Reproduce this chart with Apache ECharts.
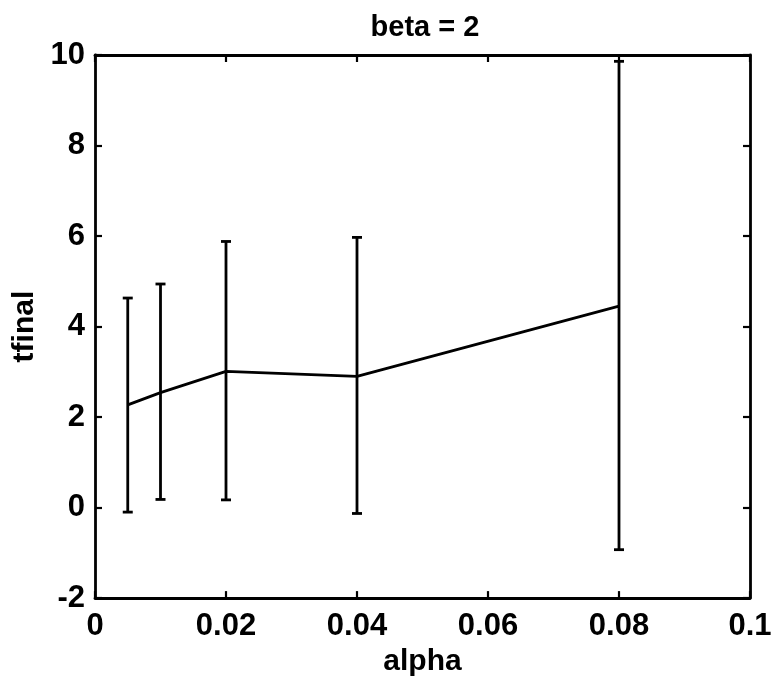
<!DOCTYPE html>
<html>
<head>
<meta charset="utf-8">
<script src="https://cdn.jsdelivr.net/npm/echarts@6/dist/echarts.min.js"></script>
<style>
html,body{margin:0;padding:0;background:#fff;}
#chart{width:778px;height:682px;}
</style>
</head>
<body>
<div id="chart"></div>
<script>
const alpha = [0.005, 0.01, 0.02, 0.04, 0.08];
const meanT = [2.27, 2.54, 3.01, 2.90, 4.45];
const lowT  = [-0.10, 0.18, 0.17, -0.13, -0.93];
const highT = [4.63, 4.94, 5.88, 5.97, 9.86];
const xTicks = [0, 0.02, 0.04, 0.06, 0.08, 0.1];
const yTicks = [-2, 0, 2, 4, 6, 8, 10];

const FONT = '"Liberation Sans", Arial, Helvetica, sans-serif';
const chart = echarts.init(document.getElementById('chart'), null, {renderer: 'canvas'});

const lineData = alpha.map((a, i) => [a, meanT[i]]);
const errData = alpha.map((a, i) => [a, lowT[i], highT[i]]);

function axisCommon(showLabels) {
  return {
    axisLine: {show: true, onZero: false, lineStyle: {color: '#000', width: 2.8}},
    axisTick: {show: true, inside: true, length: 7, lineStyle: {color: '#000', width: 2.2}},
    splitLine: {show: false},
    axisLabel: {show: showLabels}
  };
}
const labelStyle = {color: '#000', fontFamily: FONT, fontSize: 31, fontWeight: 'bold'};

const option = {
  backgroundColor: '#fff',
  animation: false,
  title: {
    text: 'beta = 2',
    left: 420, top: 8, textAlign: 'center',
    textStyle: {color: '#000', fontFamily: FONT, fontSize: 29, fontWeight: 'bold'}
  },
  grid: {left: 95, right: 28, top: 55, bottom: 82, containLabel: false},
  xAxis: [
    Object.assign(axisCommon(true), {
      type: 'value', position: 'bottom', min: 0, max: 0.1, interval: 0.02,
      name: 'alpha', nameLocation: 'middle', nameGap: 47,
      nameTextStyle: {color: '#000', fontFamily: FONT, fontSize: 30, fontWeight: 'bold'},
      axisLabel: Object.assign({show: true, margin: 13,
        formatter: v => { const s = xTicks.find(t => Math.abs(t - v) < 1e-9); return s === undefined ? '' : String(s); }}, labelStyle)
    }),
    Object.assign(axisCommon(false), {
      type: 'value', position: 'top', min: 0, max: 0.1, interval: 0.02
    })
  ],
  yAxis: [
    Object.assign(axisCommon(true), {
      type: 'value', position: 'left', min: -2, max: 10, interval: 2,
      name: 'tfinal', nameLocation: 'middle', nameGap: 44, nameRotate: 90,
      nameTextStyle: {color: '#000', fontFamily: FONT, fontSize: 30, fontWeight: 'bold'},
      axisLabel: Object.assign({show: true, margin: 10,
        formatter: v => { const s = yTicks.find(t => Math.abs(t - v) < 1e-9); return s === undefined ? '' : String(s); }}, labelStyle)
    }),
    Object.assign(axisCommon(false), {
      type: 'value', position: 'right', min: -2, max: 10, interval: 2
    })
  ],
  series: [
    {
      type: 'line', xAxisIndex: 0, yAxisIndex: 0,
      data: lineData, showSymbol: false, symbol: 'none',
      lineStyle: {color: '#000', width: 2.8}, z: 3
    },
    {
      type: 'custom', xAxisIndex: 0, yAxisIndex: 0,
      data: errData,
      renderItem: function (params, api) {
        const x = api.value(0);
        const lo = api.coord([x, api.value(1)]);
        const hi = api.coord([x, api.value(2)]);
        const cap = 5;
        const style = {stroke: '#000', lineWidth: 2.8};
        return {
          type: 'group',
          children: [
            {type: 'line', shape: {x1: lo[0], y1: lo[1], x2: hi[0], y2: hi[1]}, style: style},
            {type: 'line', shape: {x1: lo[0] - cap, y1: lo[1], x2: lo[0] + cap, y2: lo[1]}, style: style},
            {type: 'line', shape: {x1: hi[0] - cap, y1: hi[1], x2: hi[0] + cap, y2: hi[1]}, style: style}
          ]
        };
      },
      z: 4
    }
  ]
};
chart.setOption(option);
</script>
</body>
</html>
